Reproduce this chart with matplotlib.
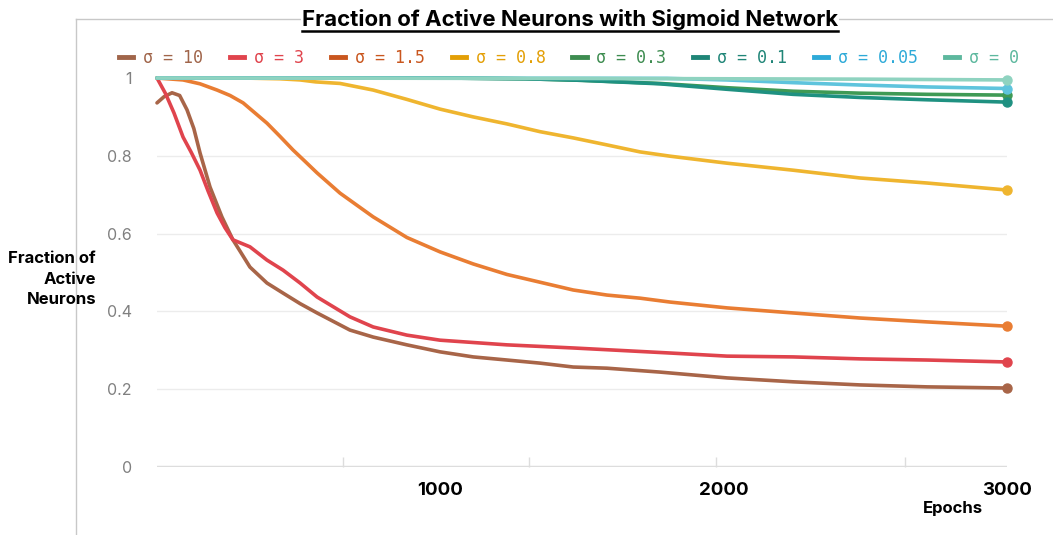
import matplotlib
matplotlib.use("Agg")
import matplotlib.pyplot as plt
from matplotlib.lines import Line2D

# sigma labels, colours for the lines and for the legend text
sigmas = ["10", "3", "1.5", "0.8", "0.3", "0.1", "0.05", "0"]
line_colors = ["#a86548", "#e0444d", "#e97d33", "#efb52f",
               "#3f9a55", "#1f9181", "#5ec4dd", "#8fd3c0"]
label_colors = ["#a0654a", "#e0444d", "#c9561e", "#e39f06",
                "#3d8c50", "#1f8577", "#2eaad8", "#5db89e"]

# values (epoch, fraction of active neurons)
ep_s10 = [0, 25, 53, 80, 106, 130, 152, 187, 229, 268, 293, 328, 388, 445, 505, 565, 681,
          763, 882, 999, 1116, 1235, 1352, 1469, 1588, 1775, 2012, 2245, 2481, 2718, 3000]
frac_s10 = [0.936, 0.952, 0.962, 0.955, 0.918, 0.87, 0.807, 0.72, 0.643, 0.584, 0.555, 0.514, 0.473,
            0.447, 0.42, 0.396, 0.352, 0.334, 0.314, 0.296, 0.283, 0.275, 0.267, 0.257, 0.254,
            0.244, 0.229, 0.219, 0.211, 0.206, 0.203]

ep_s3 = [0, 30, 60, 92, 120, 152, 180, 212, 240, 268, 328, 388, 445, 505, 565, 681, 763,
         882, 999, 1235, 1469, 1811, 2012, 2245, 2481, 2718, 3000]
frac_s3 = [1.0, 0.96, 0.91, 0.848, 0.81, 0.763, 0.71, 0.653, 0.615, 0.584, 0.566, 0.532, 0.506,
           0.473, 0.437, 0.386, 0.36, 0.339, 0.326, 0.314, 0.306, 0.293, 0.285, 0.283, 0.278,
           0.275, 0.27]

ep_s15 = [0, 92, 152, 212, 258, 304, 346, 388, 434, 480, 522, 565, 646, 763, 882, 999,
          1116, 1235, 1352, 1469, 1588, 1705, 1811, 2012, 2245, 2481, 2718, 3000]
frac_s15 = [1.0, 0.995, 0.985, 0.969, 0.955, 0.936, 0.91, 0.884, 0.85, 0.815, 0.786, 0.756, 0.704,
            0.643, 0.59, 0.553, 0.522, 0.495, 0.475, 0.455, 0.442, 0.434, 0.424, 0.409, 0.396,
            0.383, 0.373, 0.362]

ep_s08 = [0, 300, 434, 505, 560, 646, 763, 882, 999, 1116, 1235, 1352, 1469, 1588,
          1705, 1811, 2012, 2245, 2481, 2718, 3000]
frac_s08 = [1.0, 1.0, 0.998, 0.995, 0.99, 0.986, 0.969, 0.945, 0.92, 0.9, 0.882, 0.862, 0.846,
            0.828, 0.81, 0.799, 0.781, 0.763, 0.743, 0.73, 0.712]

ep_s03 = [0, 1000, 1300, 1500, 1775, 2012, 2245, 2481, 2718, 3000]
frac_s03 = [1.0, 1.0, 0.998, 0.994, 0.986, 0.975, 0.966, 0.961, 0.958, 0.956]

ep_s01 = [0, 1000, 1300, 1500, 1775, 2012, 2245, 2481, 2718, 3000]
frac_s01 = [1.0, 1.0, 0.998, 0.994, 0.985, 0.971, 0.958, 0.95, 0.944, 0.938]

ep_s005 = [0, 1800, 2012, 2245, 2481, 2718, 3000]
frac_s005 = [1.0, 0.999, 0.995, 0.988, 0.982, 0.977, 0.973]

ep_s0 = [0, 1500, 2500, 3000]
frac_s0 = [1.0, 0.999, 0.997, 0.995]

series = [(ep_s10, frac_s10), (ep_s3, frac_s3), (ep_s15, frac_s15), (ep_s08, frac_s08),
          (ep_s03, frac_s03), (ep_s01, frac_s01), (ep_s005, frac_s005), (ep_s0, frac_s0)]

yticks = [0, 0.2, 0.4, 0.6, 0.8, 1]
ytick_labels = ["0", "0.2", "0.4", "0.6", "0.8", "1"]
xticks = [1000, 2000, 3000]
xminor = [657, 1313, 1973, 2640]

W, H = 1053, 535
fig = plt.figure(figsize=(W / 100, H / 100), dpi=100)
ax = fig.add_axes([157 / W, 1 - 467 / H, 850 / W, 389 / H])

for i, (ep, fr) in enumerate(series):
    ax.plot(ep, fr, color=line_colors[i], lw=2.6, solid_capstyle="round", solid_joinstyle="round",
            clip_on=False, zorder=3 + i)
    ax.plot(ep[-1], fr[-1], "o", color=line_colors[i], ms=6.5, clip_on=False, zorder=3 + i)

ax.set_xlim(0, 3000)
ax.set_ylim(0, 1)
for s in ax.spines.values():
    s.set_visible(False)

ax.set_yticks(yticks)
ax.set_yticklabels(ytick_labels, fontsize=11.5, color="#808080", family="Inter")
ax.set_xticks(xticks)
ax.set_xticklabels([str(t) for t in xticks], fontsize=13.5, fontweight="bold", family="Inter")
ax.set_xticks(xminor, minor=True)
ax.tick_params(axis="y", length=0, pad=18)
ax.tick_params(axis="x", which="major", length=0, pad=11)
ax.tick_params(axis="x", which="minor", length=7, width=1, color="#dddddd", direction="in")
ax.grid(axis="y", color="#ececec", lw=1)
ax.axhline(0, color="#dddddd", lw=2.5, zorder=2)

fig.text(96 / W, 1 - 279 / H, "Fraction of\nActive\nNeurons", ha="right", va="center",
         fontsize=12, fontweight="bold", family="Inter", linespacing=1.45)
fig.text(983 / W, 1 - 508 / H, "Epochs", ha="right", va="center",
         fontsize=12, fontweight="bold", family="Inter")

# frame of the original card
fig.add_artist(Line2D([76 / W, 1], [1 - 19 / H, 1 - 19 / H], color="#c8c8c8", lw=1, zorder=0))
fig.add_artist(Line2D([76 / W, 76 / W], [1 - 19 / H, 0], color="#c8c8c8", lw=1, zorder=0))

title = fig.text(570 / W, 1 - 19 / H, "Fraction of Active Neurons with Sigmoid Network",
                 ha="center", va="center", fontsize=16, fontweight="bold", family="Inter",
                 bbox=dict(facecolor="white", edgecolor="none", pad=1), zorder=5)
fig.canvas.draw()
bb = title.get_window_extent().transformed(fig.transFigure.inverted())
fig.add_artist(Line2D([bb.x0, bb.x1], [bb.y0 - 1 / H, bb.y0 - 1 / H], color="black", lw=1.8, zorder=6))

handles = [Line2D([], [], color=c, lw=3.5) for c in label_colors]
labels = ["\u03c3 = " + s for s in sigmas]
leg = fig.legend(handles, labels, ncol=8, loc="center", bbox_to_anchor=(569 / W, 1 - 58 / H),
                 frameon=False, handlelength=0.85, handletextpad=0.6, columnspacing=1.6,
                 prop={"family": "DejaVu Sans Mono", "size": 12}, labelcolor=label_colors)

fig.savefig("out.png", dpi=100)
